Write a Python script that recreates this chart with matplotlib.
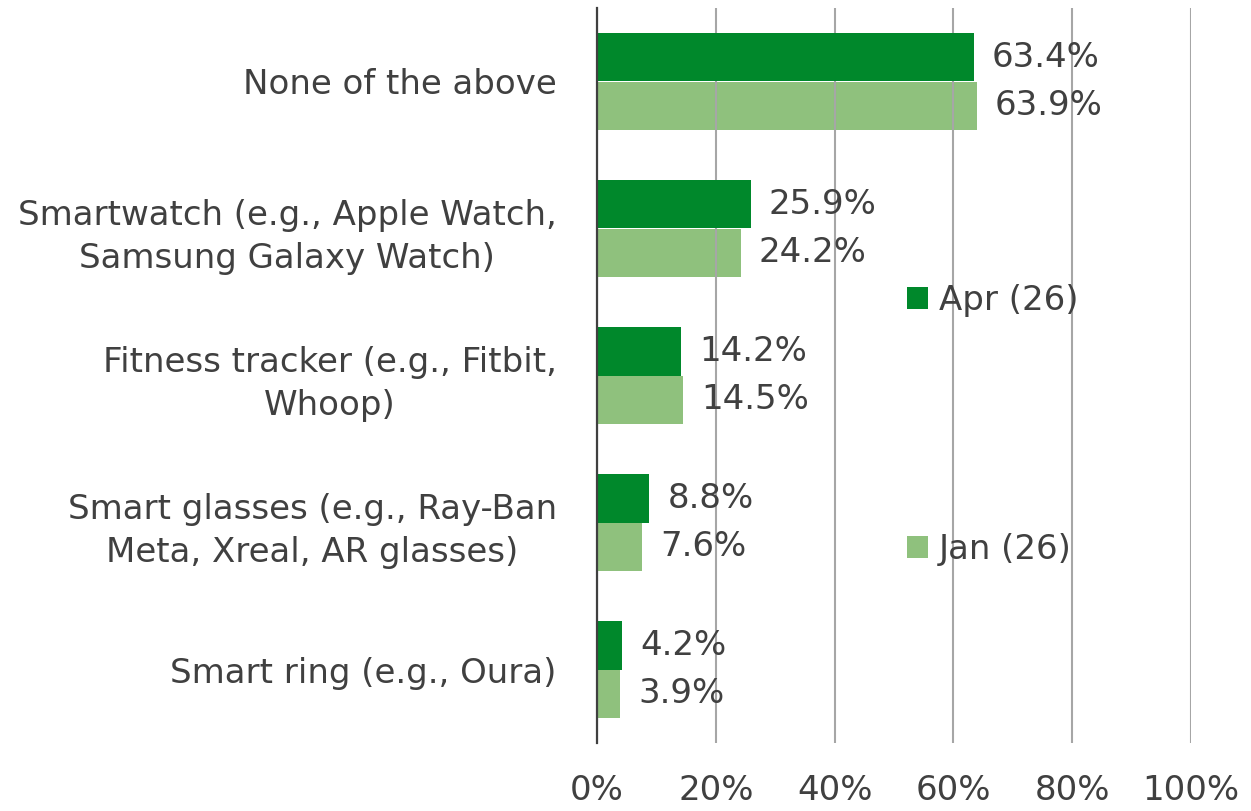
import matplotlib.pyplot as plt
import numpy as np

categories = ['None of the above',
              'Smartwatch (e.g., Apple Watch,\nSamsung Galaxy Watch)',
              'Fitness tracker (e.g., Fitbit,\nWhoop)',
              'Smart glasses (e.g., Ray-Ban\nMeta, Xreal, AR glasses)',
              'Smart ring (e.g., Oura)']
apr = [63.4, 25.9, 14.2, 8.8, 4.2]
jan = [63.9, 24.2, 14.5, 7.6, 3.9]
series_names = ['Apr (26)', 'Jan (26)']
xticks = [0, 20, 40, 60, 80, 100]

dark = '#00882B'
light = '#86BC72'
txt = '#404040'
fs = 24.5

plt.rcParams['font.family'] = ['DejaVu Sans']

fig = plt.figure(figsize=(12.51, 8.11), dpi=100)
ax = fig.add_axes([597 / 1251, 68 / 811, 594 / 1251, 735 / 811])

y = np.arange(len(categories))
h = 0.333
b1 = ax.barh(y - h / 2, apr, height=h, color=dark, label=series_names[0], zorder=3)
b2 = ax.barh(y + h / 2, jan, height=h, color=light, alpha=0.92, label=series_names[1], zorder=1)

for bars, vals in [(b1, apr), (b2, jan)]:
    for bar, v in zip(bars, vals):
        ax.annotate(f'{v:.1f}%', (bar.get_width(), bar.get_y() + bar.get_height() / 2),
                    xytext=(13, 0), textcoords='offset points', va='center', ha='left',
                    fontsize=fs, color=txt, zorder=5)

ax.set_xlim(0, 100)
ax.set_ylim(len(categories) - 0.5, -0.5)
ax.set_xticks(xticks)
ax.set_xticklabels([f'{t}%' for t in xticks])
ax.set_yticks(y)
ax.set_yticklabels(categories, linespacing=1.4)
for lab in ax.get_yticklabels():
    lab.set_multialignment('center')

ax.grid(axis='x', color='#A6A6A6', linewidth=1.5, zorder=2)
ax.set_axisbelow(False)
for s in ['top', 'right', 'bottom']:
    ax.spines[s].set_visible(False)
ax.spines['left'].set_color(txt)
ax.spines['left'].set_linewidth(1.6)
ax.spines['left'].set_zorder(6)
ax.tick_params(axis='both', length=0, labelsize=fs, labelcolor=txt)
ax.tick_params(axis='x', pad=22)
ax.tick_params(axis='y', pad=29)

leg = ax.legend(loc='center left', bbox_to_anchor=(907 / 1251, 1 - 425 / 811),
                bbox_transform=fig.transFigure, frameon=False, fontsize=fs,
                handlelength=0.62, handleheight=0.62, handletextpad=0.32,
                labelspacing=6.35, borderpad=0, borderaxespad=0)
for t in leg.get_texts():
    t.set_color(txt)

fig.savefig('out.png', dpi=100)
